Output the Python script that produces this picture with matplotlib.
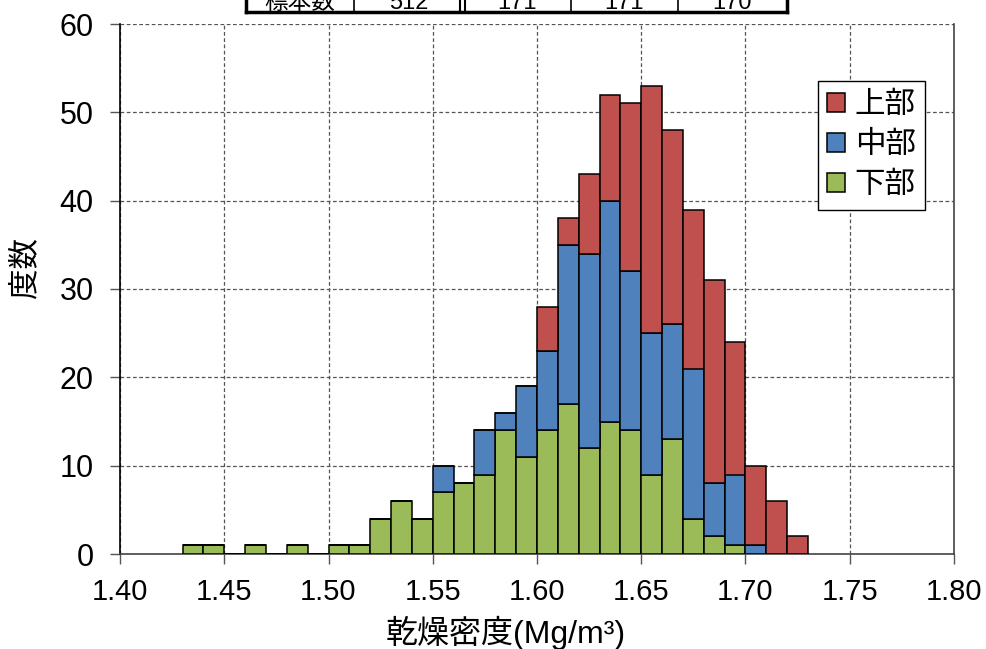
import matplotlib
matplotlib.use("Agg")
import matplotlib.pyplot as plt
import numpy as np

plt.rcParams['font.family'] = ['Liberation Sans', 'Noto Sans CJK JP', 'DejaVu Sans']

# bin left edges (width 0.01 Mg/m3), 1.43 ... 1.72
bin_left = np.round(np.arange(1.43, 1.725, 0.01), 2)
bin_width = 0.01

lower = [1, 1, 0, 1, 0, 1, 0, 1, 1, 4, 6, 4, 7, 8, 9, 14, 11, 14, 17, 12,
         15, 14, 9, 13, 4, 2, 1, 0, 0, 0]
middle = [0, 0, 0, 0, 0, 0, 0, 0, 0, 0, 0, 0, 3, 0, 5, 2, 8, 9, 18, 22,
          25, 18, 16, 13, 17, 6, 8, 1, 0, 0]
upper = [0, 0, 0, 0, 0, 0, 0, 0, 0, 0, 0, 0, 0, 0, 0, 0, 0, 5, 3, 9,
         12, 19, 28, 22, 18, 23, 15, 9, 6, 2]

series_names = ['上部', '中部', '下部']
series_colors = ['#C0504D', '#4F81BD', '#9BBB59']

table_header = '標本数'
table_counts = [sum(upper) + sum(middle) + sum(lower), sum(upper), sum(middle), sum(lower)]

x_ticks = [1.40, 1.45, 1.50, 1.55, 1.60, 1.65, 1.70, 1.75, 1.80]
y_ticks = [0, 10, 20, 30, 40, 50, 60]

W, H = 987, 649
fig = plt.figure(figsize=(W / 100, H / 100), dpi=100)
ax = fig.add_axes([120 / W, (H - 554) / H, 834 / W, 530 / H])

lower = np.array(lower)
middle = np.array(middle)
upper = np.array(upper)
kw = dict(width=bin_width, align='edge', edgecolor='black', linewidth=1.1, zorder=3)
b_low = ax.bar(bin_left, lower, color=series_colors[2], **kw)
b_mid = ax.bar(bin_left, middle, bottom=lower, color=series_colors[1], **kw)
b_up = ax.bar(bin_left, upper, bottom=lower + middle, color=series_colors[0], **kw)

ax.set_xlim(1.40, 1.80)
ax.set_ylim(0, 60)
ax.set_xticks(x_ticks)
ax.set_xticklabels([f'{t:.2f}' for t in x_ticks])
ax.set_yticks(y_ticks)
ax.tick_params(axis='both', length=7, width=1, color='#555555', direction='out')
ax.tick_params(axis='x', labelsize=21, pad=10)
ax.tick_params(axis='y', labelsize=22, pad=12)
ax.grid(True, linestyle=(0, (3, 2)), color='#555555', linewidth=0.9, zorder=0)
ax.set_axisbelow(True)

ax.spines['left'].set_color('black')
ax.spines['left'].set_linewidth(1.2)
ax.spines['bottom'].set_color('#444444')
ax.spines['right'].set_color('#444444')
ax.spines['top'].set_visible(False)
for s in ('bottom', 'right'):
    ax.spines[s].set_linewidth(1.2)

fig.text(25 / W, 1 - 267 / H, '度数', rotation=90, fontsize=22, ha='center', va='center')
fig.text(506 / W, 1 - 633 / H, '乾燥密度(Mg/m³)', fontsize=23, ha='center', va='center')

leg = ax.legend([b_up, b_mid, b_low], series_names, loc='upper left',
                bbox_to_anchor=(818 / W, 1 - 81 / H), bbox_transform=fig.transFigure,
                fontsize=22, frameon=True, fancybox=False, framealpha=1,
                edgecolor='black', handlelength=0.6, handleheight=0.6,
                handletextpad=0.3, labelspacing=0.33, borderpad=0.3,
                borderaxespad=0)
leg.get_frame().set_linewidth(1.0)
leg.set_zorder(5)

# sample-count table strip along the top edge
col_edges = [246, 354, 463, 571, 678, 787]
line_y = 1 - 12 / H
fig.add_artist(plt.Line2D([col_edges[0] / W, col_edges[-1] / W], [line_y, line_y],
                          color='black', linewidth=2.5, transform=fig.transFigure))
for i, xe in enumerate(col_edges):
    lw = 2.5 if i in (0, 5) else 1.2
    if i == 2:
        for dx in (-2.5, 2.5):
            fig.add_artist(plt.Line2D([(xe + dx) / W] * 2, [line_y, 1.0], color='black',
                                      linewidth=1.5, transform=fig.transFigure))
    else:
        fig.add_artist(plt.Line2D([xe / W] * 2, [line_y, 1.0], color='black',
                                  linewidth=lw, transform=fig.transFigure))
cells = [table_header] + [str(c) for c in table_counts]
for i, txt in enumerate(cells):
    cx = (col_edges[i] + col_edges[i + 1]) / 2
    fig.text(cx / W, 1 - 9 / H, txt, fontsize=17, ha='center', va='baseline')

fig.savefig('out.png', dpi=100)
